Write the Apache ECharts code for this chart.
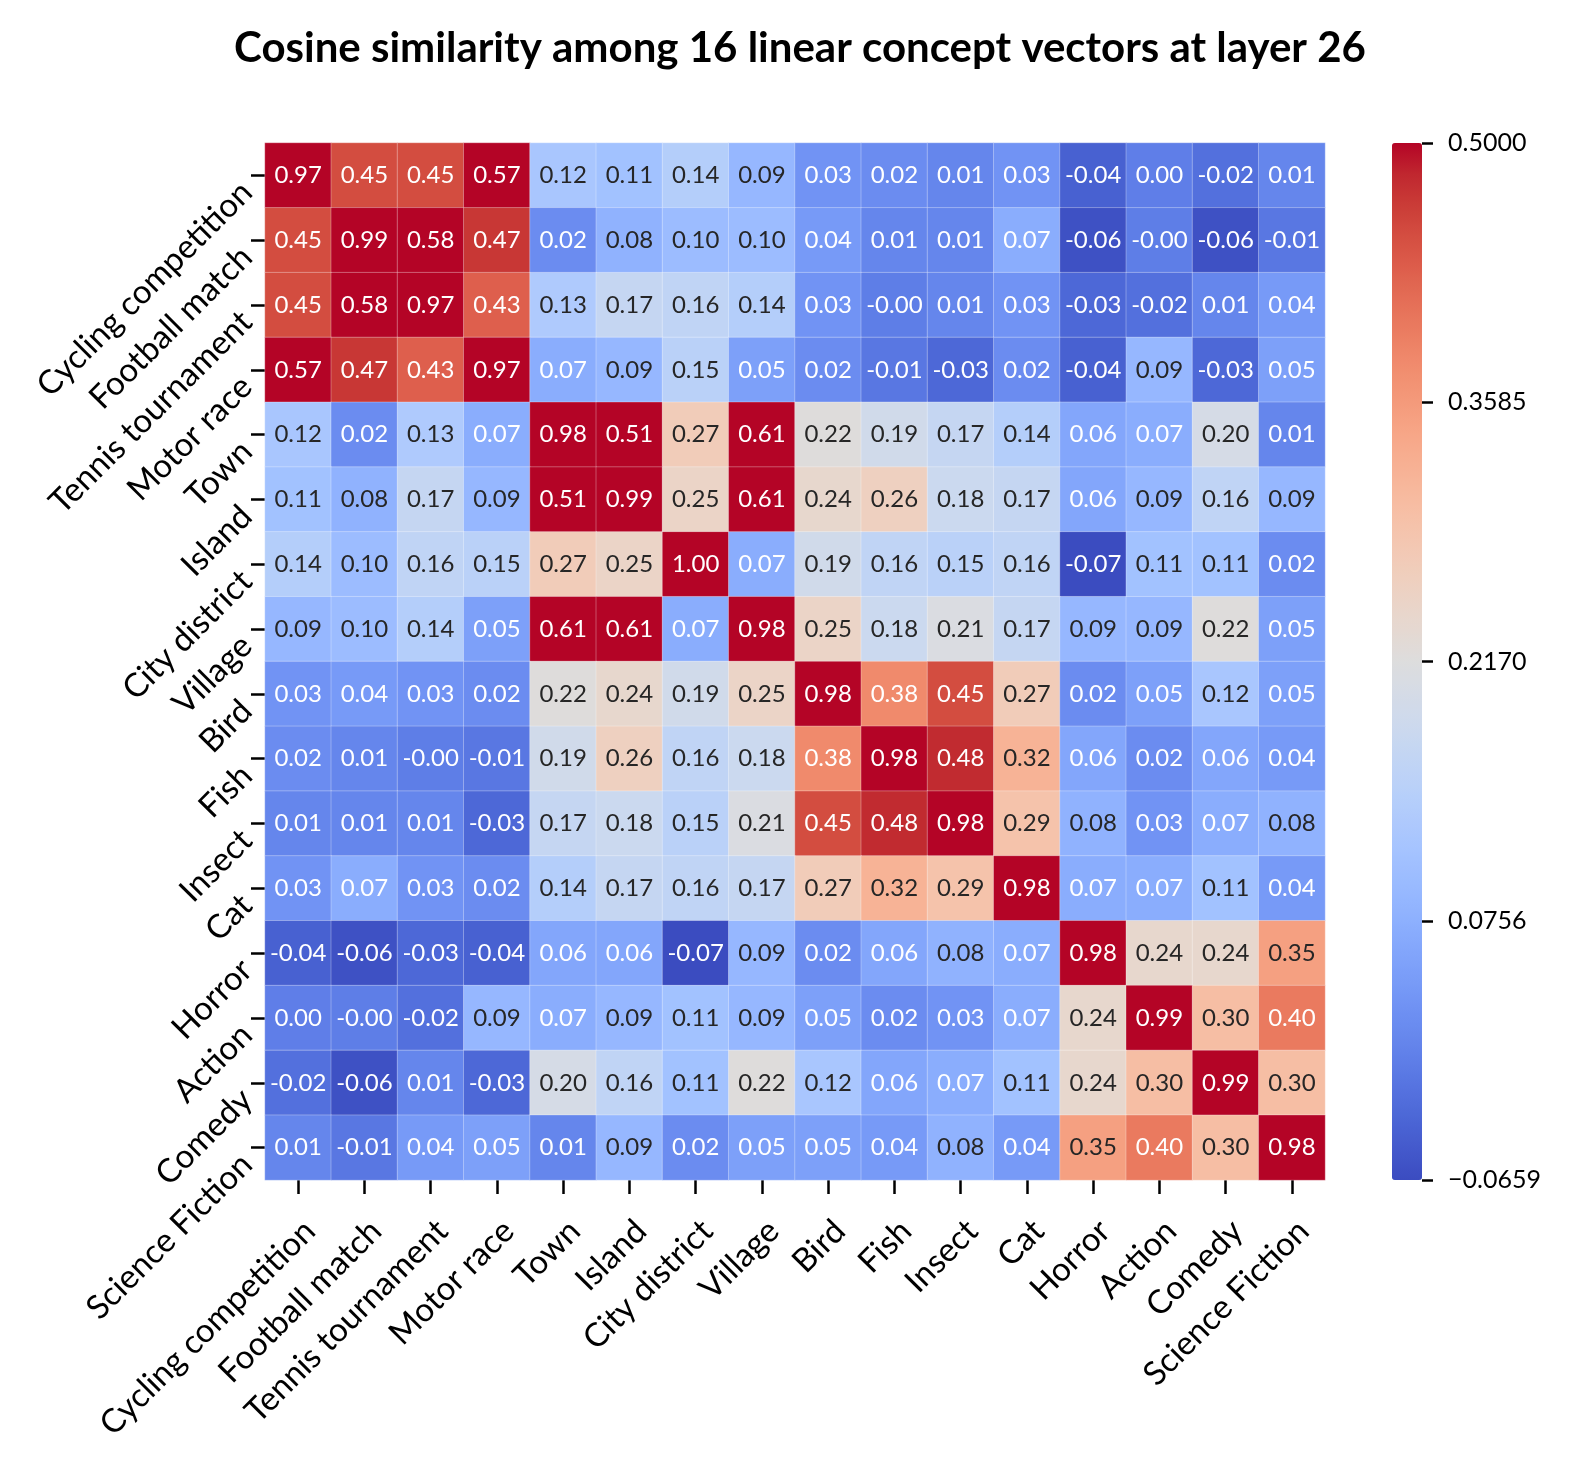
<!DOCTYPE html>
<html><head><meta charset="utf-8">
<script src="https://cdn.jsdelivr.net/npm/echarts@6/dist/echarts.min.js"></script>
<style>html,body{margin:0;padding:0;background:#fff}#c{width:1570px;height:1470px}</style>
</head><body><div id="c"></div><script>
const concepts = ['Cycling competition','Football match','Tennis tournament','Motor race','Town','Island','City district','Village','Bird','Fish','Insect','Cat','Horror','Action','Comedy','Science Fiction'];
const similarity = [
 [0.97,0.45,0.45,0.57,0.12,0.11,0.14,0.09,0.03,0.02,0.01,0.03,-0.04,0.00,-0.02,0.01],
 [0.45,0.99,0.58,0.47,0.02,0.08,0.10,0.10,0.04,0.01,0.01,0.07,-0.06,-0.001,-0.06,-0.01],
 [0.45,0.58,0.97,0.43,0.13,0.17,0.16,0.14,0.03,-0.001,0.01,0.03,-0.03,-0.02,0.01,0.04],
 [0.57,0.47,0.43,0.97,0.07,0.09,0.15,0.05,0.02,-0.01,-0.03,0.02,-0.04,0.09,-0.03,0.05],
 [0.12,0.02,0.13,0.07,0.98,0.51,0.27,0.61,0.22,0.19,0.17,0.14,0.06,0.07,0.20,0.01],
 [0.11,0.08,0.17,0.09,0.51,0.99,0.25,0.61,0.24,0.26,0.18,0.17,0.06,0.09,0.16,0.09],
 [0.14,0.10,0.16,0.15,0.27,0.25,1.00,0.07,0.19,0.16,0.15,0.16,-0.07,0.11,0.11,0.02],
 [0.09,0.10,0.14,0.05,0.61,0.61,0.07,0.98,0.25,0.18,0.21,0.17,0.09,0.09,0.22,0.05],
 [0.03,0.04,0.03,0.02,0.22,0.24,0.19,0.25,0.98,0.38,0.45,0.27,0.02,0.05,0.12,0.05],
 [0.02,0.01,-0.001,-0.01,0.19,0.26,0.16,0.18,0.38,0.98,0.48,0.32,0.06,0.02,0.06,0.04],
 [0.01,0.01,0.01,-0.03,0.17,0.18,0.15,0.21,0.45,0.48,0.98,0.29,0.08,0.03,0.07,0.08],
 [0.03,0.07,0.03,0.02,0.14,0.17,0.16,0.17,0.27,0.32,0.29,0.98,0.07,0.07,0.11,0.04],
 [-0.04,-0.06,-0.03,-0.04,0.06,0.06,-0.07,0.09,0.02,0.06,0.08,0.07,0.98,0.24,0.24,0.35],
 [0.00,-0.001,-0.02,0.09,0.07,0.09,0.11,0.09,0.05,0.02,0.03,0.07,0.24,0.99,0.30,0.40],
 [-0.02,-0.06,0.01,-0.03,0.20,0.16,0.11,0.22,0.12,0.06,0.07,0.11,0.24,0.30,0.99,0.30],
 [0.01,-0.01,0.04,0.05,0.01,0.09,0.02,0.05,0.05,0.04,0.08,0.04,0.35,0.40,0.30,0.98]
];
const colorMin = -0.0659;
const colorMax = 0.5;
const colorbarTicks = ['\u22120.0659','0.0756','0.2170','0.3585','0.5000'];

const coolwarm = [[59,76,192],[68,90,204],[77,104,215],[87,117,225],[98,130,234],[108,142,241],[119,154,247],[130,165,251],[141,176,254],[152,185,255],[163,194,255],[174,201,253],[184,208,249],[194,213,244],[204,217,238],[213,219,230],[221,221,221],[229,216,209],[236,211,197],[241,204,185],[245,196,173],[247,187,160],[247,177,148],[247,166,135],[244,154,123],[241,141,111],[236,127,99],[229,112,88],[222,96,77],[213,80,66],[203,62,56],[192,40,47],[180,4,38]];
const cwHex = coolwarm.map(c => 'rgb(' + c.join(',') + ')');

function cmap(v) {
  let t = (v - colorMin) / (colorMax - colorMin);
  t = Math.max(0, Math.min(1, t));
  const p = t * (coolwarm.length - 1);
  const i = Math.min(Math.floor(p), coolwarm.length - 2);
  const f = p - i;
  return coolwarm[i].map((c, k) => c + (coolwarm[i + 1][k] - c) * f);
}
function lum(rgb) {
  const l = rgb.map(c => { c /= 255; return c <= 0.03928 ? c / 12.92 : Math.pow((c + 0.055) / 1.055, 2.4); });
  return 0.2126 * l[0] + 0.7152 * l[1] + 0.0722 * l[2];
}

const cells = [];
similarity.forEach((row, r) => row.forEach((v, c) => {
  cells.push({ value: [c, r, v], label: { color: lum(cmap(v)) > 0.43 ? '#262626' : '#ffffff' } });
}));

const FONT = 'Lato';
const gL = 265, gT = 143, gW = 1060, gH = 1037;
const chart = echarts.init(document.getElementById('c'), null, { renderer: 'canvas' });
chart.setOption({
  backgroundColor: '#fff',
  animation: false,
  textStyle: { fontFamily: FONT },
  title: {
    text: 'Cosine similarity among 16 linear concept vectors at layer 26',
    left: gL + gW / 2, top: 22, textAlign: 'center',
    textStyle: { fontFamily: FONT, fontWeight: 'bold', fontSize: 42, color: '#000' }
  },
  grid: [
    { left: gL, top: gT, width: gW, height: gH },
    { left: 1422, top: gT, width: 1, height: gH }
  ],
  xAxis: [
    { type: 'category', data: concepts, gridIndex: 0, position: 'bottom',
      axisLine: { show: false },
      axisTick: { show: true, alignWithLabel: true, length: 14, lineStyle: { color: '#000', width: 2.5 } },
      axisLabel: { rotate: 45, fontSize: 33, color: '#000', fontFamily: FONT, margin: 34, interval: 0, verticalAlign: 'top' },
      splitLine: { show: false }
    },
    { type: 'value', gridIndex: 1, show: false }
  ],
  yAxis: [
    { type: 'category', data: concepts, gridIndex: 0, inverse: true,
      axisLine: { show: false },
      axisTick: { show: true, alignWithLabel: true, length: 14, lineStyle: { color: '#000', width: 2.5 } },
      axisLabel: { rotate: 45, fontSize: 33, color: '#000', fontFamily: FONT, margin: 30, interval: 0, verticalAlign: 'top' },
      splitLine: { show: false }
    },
    { type: 'value', gridIndex: 1, position: 'right', min: 0, max: 4, interval: 1,
      axisLine: { show: false },
      axisTick: { show: true, length: 11, lineStyle: { color: '#000', width: 2.5 } },
      axisLabel: { fontSize: 25, color: '#000', fontFamily: FONT, margin: 25, formatter: v => colorbarTicks[Math.round(v)] },
      splitLine: { show: false }
    }
  ],
  visualMap: {
    type: 'continuous', seriesIndex: 0, min: colorMin, max: colorMax,
    calculable: false, show: true, orient: 'vertical',
    left: 1392, top: gT, itemWidth: 30, itemHeight: gH, padding: 0,
    text: null, showLabel: false,
    inRange: { color: cwHex }
  },
  series: [{
    type: 'heatmap', xAxisIndex: 0, yAxisIndex: 0,
    data: cells,
    itemStyle: { borderColor: 'rgba(255,255,255,0.3)', borderWidth: 1 },
    label: { show: true, fontSize: 24, fontFamily: FONT, formatter: p => p.value[2].toFixed(2) },
    emphasis: { disabled: true }
  }]
});
</script></body></html>
